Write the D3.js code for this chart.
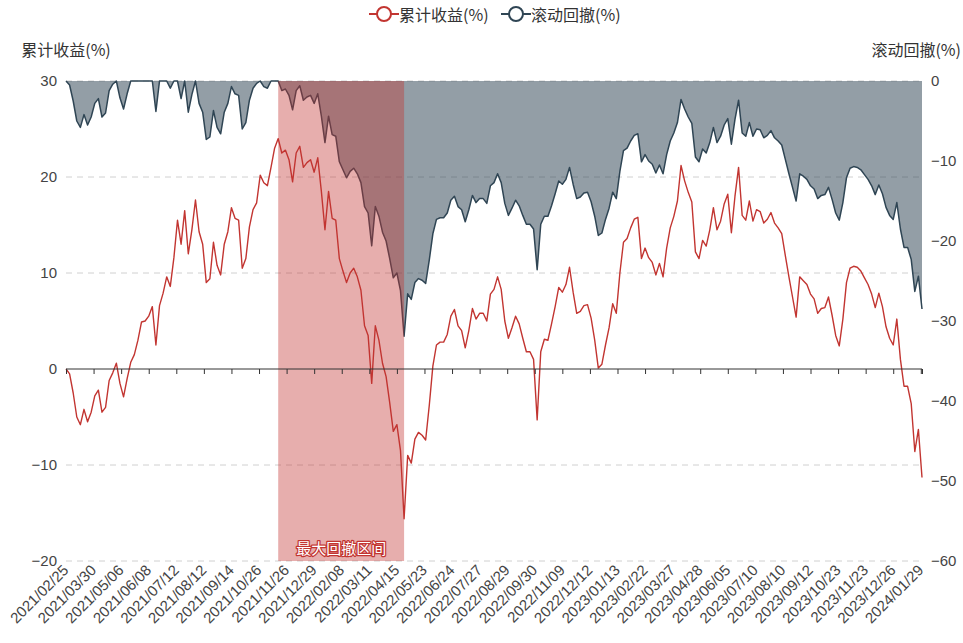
<!DOCTYPE html>
<html>
<head>
<meta charset="utf-8">
<script src="https://cdn.jsdelivr.net/npm/d3@7/dist/d3.min.js"></script>
<style>
  html, body { margin: 0; padding: 0; background: #fff; }
  svg { display: block; font-family: "Noto Sans CJK SC", "Noto Sans", sans-serif; }
</style>
</head>
<body>
<svg id="chart" width="963" height="643"></svg>
<script>
// Axis labels on the category (trading-day) axis, one every LABEL_STEP days
const dateLabels = [
  "2021/02/25", "2021/03/30", "2021/05/06", "2021/06/08", "2021/07/12", "2021/08/12",
  "2021/09/14", "2021/10/26", "2021/11/26", "2021/12/29", "2022/02/08", "2022/03/11",
  "2022/04/15", "2022/05/23", "2022/06/24", "2022/07/27", "2022/08/29", "2022/09/30",
  "2022/11/09", "2022/12/12", "2023/01/13", "2023/02/22", "2023/03/27", "2023/04/28",
  "2023/06/05", "2023/07/10", "2023/08/10", "2023/09/12", "2023/10/23", "2023/11/23",
  "2023/12/26", "2024/01/29"
];
const LABEL_STEP = 23;   // trading days between axis labels
const SAMPLE_STEP = 3;   // trading days between stored samples

// 累计收益 (%), sampled every SAMPLE_STEP trading days
const cumReturn = [
  0, -0.5, -2.5, -5.0, -5.8, -4.2, -5.5, -4.5, -2.8, -2.2,
  -4.5, -4.0, -1.2, -0.4, 0.6, -1.5, -2.9, -1.0, 0.7, 1.5,
  3.0, 4.9, 5.0, 5.5, 6.5, 2.5, 6.6, 7.9, 9.6, 8.6,
  11.6, 15.5, 13.0, 16.5, 12.0, 14.5, 17.6, 14.3, 13.0, 9.0,
  9.4, 13.2, 10.8, 9.8, 13.0, 14.3, 16.8, 15.7, 15.5, 10.5,
  11.5, 14.8, 16.6, 17.3, 20.2, 19.4, 19.1, 21.0, 23.0, 24.0,
  22.5, 22.8, 21.8, 19.5, 22.5, 23.2, 21.0, 21.5, 21.8, 20.5,
  22.0, 18.5, 14.5, 18.5, 15.7, 15.5, 11.5, 10.2, 9.0, 10.0,
  10.5, 9.6, 8.2, 4.5, 3.5, -1.5, 4.5, 3.0, 0.6, -0.8,
  -3.5, -6.5, -5.8, -8.5, -15.6, -9.0, -9.8, -7.3, -6.6, -6.9,
  -7.4, -3.8, 0.3, 2.5, 2.8, 2.8, 3.6, 5.5, 6.2, 4.5,
  4.0, 2.2, 4.0, 6.3, 5.2, 5.8, 5.8, 5.0, 7.8, 8.3,
  9.6, 8.3, 5.0, 3.2, 4.3, 5.5, 4.7, 3.2, 1.8, 1.8,
  1.0, -5.3, 1.8, 3.1, 3.0, 4.7, 6.5, 8.5, 8.0, 8.8,
  10.6, 8.0, 5.8, 6.0, 6.6, 6.7, 5.3, 3.0, 0.1, 0.5,
  2.5, 4.3, 6.8, 5.8, 10.0, 13.2, 13.6, 14.7, 15.6, 15.8,
  11.5, 12.6, 11.6, 11.1, 9.8, 11.0, 9.6, 12.6, 14.7, 15.9,
  17.5, 21.2, 19.6, 18.4, 17.4, 12.2, 11.5, 13.4, 12.8, 14.5,
  16.8, 14.5, 15.4, 17.2, 18.2, 14.2, 18.0, 21.0, 16.0, 15.5,
  17.5, 15.4, 16.6, 16.4, 15.2, 15.6, 16.3, 15.2, 14.7, 14.1,
  11.8, 9.6, 7.5, 5.4, 9.6, 9.2, 8.8, 7.8, 7.3, 5.8,
  6.3, 6.4, 7.5, 5.6, 3.5, 2.4, 5.2, 9.0, 10.5, 10.7,
  10.6, 10.2, 9.5, 8.8, 7.8, 6.4, 7.9, 6.5, 4.4, 3.2,
  2.5, 5.2, 1.0, -1.8, -1.8, -3.6, -8.6, -6.3, -11.3
];

// 滚动回撤 (%), same sampling
const drawdown = [
  0, -0.5, -2.5, -5.0, -5.8, -4.2, -5.5, -4.5, -2.8, -2.2,
  -4.5, -4.0, -1.2, -0.4, 0, -2.1, -3.5, -1.6, 0, 0,
  0, 0, 0, 0, 0, -3.8, 0, 0, 0, -0.9,
  0, 0, -2.2, 0, -3.9, -1.7, 0, -2.8, -3.9, -7.3,
  -7.0, -3.7, -5.8, -6.6, -3.9, -2.8, -0.7, -1.6, -1.8, -6.0,
  -5.2, -2.4, -0.9, -0.3, 0, -0.7, -0.9, 0, 0, 0,
  -1.2, -1.0, -1.8, -3.6, -1.2, -0.6, -2.4, -2.0, -1.8, -2.8,
  -1.6, -4.4, -7.7, -4.4, -6.7, -6.9, -10.1, -11.1, -12.1, -11.3,
  -10.9, -11.6, -12.7, -15.7, -16.5, -20.6, -15.7, -16.9, -18.9, -20.0,
  -22.2, -24.6, -24.0, -26.2, -31.9, -26.6, -27.3, -25.2, -24.7, -24.9,
  -25.3, -22.4, -19.1, -17.3, -17.1, -17.1, -16.5, -14.9, -14.4, -15.7,
  -16.1, -17.6, -16.1, -14.3, -15.2, -14.7, -14.7, -15.3, -13.1, -12.7,
  -11.6, -12.7, -15.3, -16.8, -15.9, -14.9, -15.6, -16.8, -17.9, -17.9,
  -18.5, -23.6, -17.9, -16.9, -16.9, -15.6, -14.1, -12.5, -12.9, -12.3,
  -10.8, -12.9, -14.7, -14.5, -14.0, -13.9, -15.1, -16.9, -19.3, -19.0,
  -17.3, -15.9, -13.9, -14.7, -11.3, -8.7, -8.4, -7.5, -6.8, -6.6,
  -10.1, -9.2, -10.0, -10.4, -11.5, -10.5, -11.6, -9.2, -7.5, -6.5,
  -5.2, -2.3, -3.5, -4.5, -5.3, -9.5, -10.1, -8.5, -9.0, -7.7,
  -5.8, -7.7, -6.9, -5.5, -4.7, -7.9, -4.8, -2.4, -6.5, -6.9,
  -5.2, -6.9, -6.0, -6.1, -7.1, -6.8, -6.2, -7.1, -7.5, -8.0,
  -9.8, -11.6, -13.3, -15.0, -11.6, -11.9, -12.3, -13.1, -13.5, -14.7,
  -14.3, -14.2, -13.3, -14.8, -16.5, -17.4, -15.2, -12.1, -10.9, -10.7,
  -10.8, -11.1, -11.7, -12.3, -13.1, -14.2, -13.0, -14.1, -15.8, -16.8,
  -17.3, -15.2, -18.5, -20.8, -20.8, -22.3, -26.3, -24.4, -28.5
];

const leftTicks = [30, 20, 10, 0, -10, -20];
const rightTicks = [0, -10, -20, -30, -40, -50, -60];
const seriesNames = ["累计收益(%)", "滚动回撤(%)"];
const markAreaName = "最大回撤区间";

// ---- layout & styles ----
const W = 963, H = 643;
const plot = { left: 66, right: 922, top: 81, bottom: 561 };
const RED = "#c23531", SLATE = "#2f4554", TEXT = "#333", FONT = 15;

const svg = d3.select("#chart");

const lastIndex = (cumReturn.length - 1) * SAMPLE_STEP;
const x = d3.scaleLinear().domain([0, lastIndex]).range([plot.left, plot.right]);
const yL = d3.scaleLinear().domain([-20, 30]).range([plot.bottom, plot.top]);
const yR = d3.scaleLinear().domain([-60, 0]).range([plot.bottom, plot.top]);

const retPts = cumReturn.map((v, k) => ({ i: k * SAMPLE_STEP, v }));
const ddPts = drawdown.map((v, k) => ({ i: k * SAMPLE_STEP, v }));
const labelIdx = dateLabels.map((_, j) => j * LABEL_STEP);

// dashed split lines of the left axis
svg.append("g")
  .selectAll("line")
  .data(leftTicks.filter(t => t !== 0))
  .join("line")
  .attr("x1", plot.left).attr("x2", plot.right)
  .attr("y1", d => yL(d)).attr("y2", d => yL(d))
  .attr("stroke", "#d0d0d0").attr("stroke-width", 1)
  .attr("stroke-dasharray", "6,5");

// drawdown area + line (right axis)
svg.append("path")
  .datum(ddPts)
  .attr("fill", SLATE).attr("fill-opacity", 0.52)
  .attr("d", d3.area().x(d => x(d.i)).y0(yR(0)).y1(d => yR(d.v)));
svg.append("path")
  .datum(ddPts)
  .attr("fill", "none").attr("stroke", SLATE).attr("stroke-width", 1.5)
  .attr("stroke-linejoin", "round")
  .attr("d", d3.line().x(d => x(d.i)).y(d => yR(d.v)));

// cumulative return line (left axis)
svg.append("path")
  .datum(retPts)
  .attr("fill", "none").attr("stroke", RED).attr("stroke-width", 1.4)
  .attr("stroke-linejoin", "round")
  .attr("d", d3.line().x(d => x(d.i)).y(d => yL(d.v)));

// maximum drawdown interval: from the running peak to the deepest trough
const troughK = d3.minIndex(drawdown);
const peakK = d3.maxIndex(cumReturn.slice(0, troughK + 1));
const mx0 = x(peakK * SAMPLE_STEP), mx1 = x(troughK * SAMPLE_STEP);
svg.append("rect")
  .attr("x", mx0).attr("y", plot.top)
  .attr("width", mx1 - mx0).attr("height", plot.bottom - plot.top)
  .attr("fill", RED).attr("fill-opacity", 0.4);
svg.append("text")
  .attr("x", (mx0 + mx1) / 2).attr("y", plot.bottom - 14)
  .attr("text-anchor", "middle").attr("dominant-baseline", "central")
  .attr("font-size", FONT)
  .attr("fill", "#fff").attr("stroke", RED).attr("stroke-width", 2.5)
  .attr("paint-order", "stroke").attr("stroke-linejoin", "round")
  .text(markAreaName);

// x axis line on the zero of the left axis, with ticks
const xAxisZero = svg.append("g")
  .attr("transform", `translate(0,${yL(0)})`)
  .call(d3.axisBottom(x).tickValues([...labelIdx, lastIndex]).tickSize(5).tickFormat(""));
xAxisZero.select(".domain").attr("stroke", TEXT).attr("d", `M${plot.left},0H${plot.right}`);
xAxisZero.selectAll(".tick line").attr("stroke", TEXT);

// rotated date labels along the bottom
const xLabels = svg.append("g")
  .attr("transform", `translate(0,${plot.bottom})`)
  .call(d3.axisBottom(x).tickValues(labelIdx).tickSize(0)
    .tickFormat((d, j) => dateLabels[j]));
xLabels.select(".domain").remove();
xLabels.selectAll("text")
  .attr("font-size", FONT).attr("font-family", null).attr("fill", "#444")
  .attr("text-anchor", "end")
  .attr("x", -5).attr("y", 4).attr("dy", "0.35em")
  .attr("transform", "rotate(-45)");

// left axis labels
const gL = svg.append("g")
  .attr("transform", `translate(${plot.left},0)`)
  .call(d3.axisLeft(yL).tickValues(leftTicks).tickSize(0).tickPadding(9));
gL.select(".domain").remove();
gL.selectAll("text").attr("font-size", FONT).attr("font-family", null).attr("fill", "#444");

// right axis labels
const gR = svg.append("g")
  .attr("transform", `translate(${plot.right},0)`)
  .call(d3.axisRight(yR).tickValues(rightTicks).tickSize(0).tickPadding(9));
gR.select(".domain").remove();
gR.selectAll("text").attr("font-size", FONT).attr("font-family", null).attr("fill", "#444");

// axis names
svg.append("text").attr("x", plot.left).attr("y", 49)
  .attr("text-anchor", "middle").attr("dominant-baseline", "central")
  .attr("font-size", 16).attr("fill", TEXT).text(seriesNames[0]);
svg.append("text").attr("x", W - 2).attr("y", 49)
  .attr("text-anchor", "end").attr("dominant-baseline", "central")
  .attr("font-size", 16).attr("fill", TEXT).text(seriesNames[1]);

// legend
const legendItems = [
  { name: seriesNames[0], color: RED, cx: 384, tx: 399 },
  { name: seriesNames[1], color: SLATE, cx: 516, tx: 531 }
];
const lg = svg.append("g").selectAll("g").data(legendItems).join("g");
lg.append("line")
  .attr("x1", d => d.cx - 15).attr("x2", d => d.cx + 15)
  .attr("y1", 14).attr("y2", 14)
  .attr("stroke", d => d.color).attr("stroke-width", 2);
lg.append("circle")
  .attr("cx", d => d.cx).attr("cy", 14).attr("r", 7)
  .attr("fill", "#fff").attr("stroke", d => d.color).attr("stroke-width", 2);
lg.append("text")
  .attr("x", d => d.tx).attr("y", 14)
  .attr("dominant-baseline", "central")
  .attr("font-size", 16).attr("fill", TEXT)
  .text(d => d.name);
</script>
</body>
</html>
